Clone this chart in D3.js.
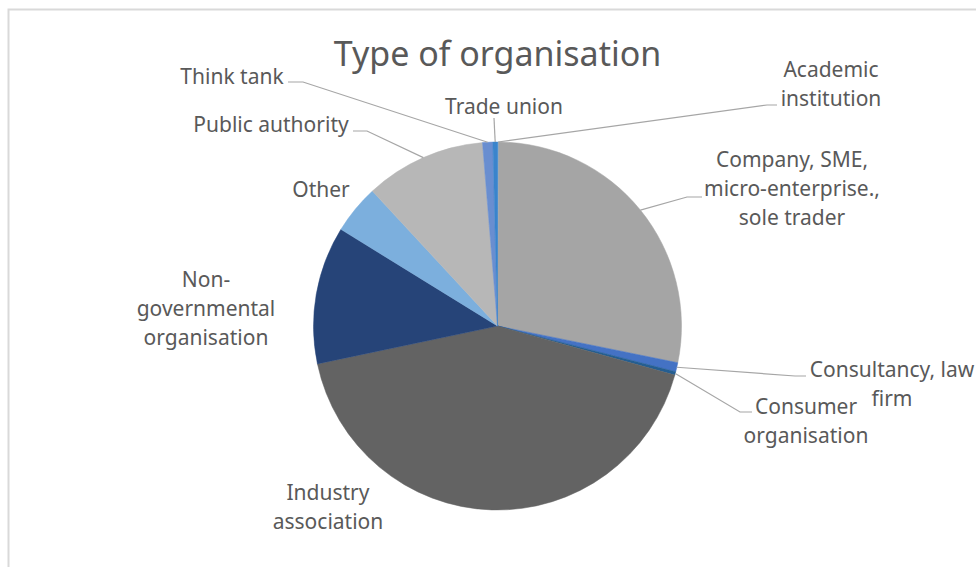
<!DOCTYPE html>
<html>
<head>
<meta charset="utf-8">
<script src="https://cdn.jsdelivr.net/npm/d3@7"></script>
<style>
  body { margin: 0; background: #fff; }
  svg { display: block; font-family: "Noto Sans", "Open Sans", sans-serif; }
  .lbl { fill: #595959; font-size: 21px; }
  .title { fill: #595959; font-size: 34px; }
  .leader { fill: none; stroke: #a6a6a6; stroke-width: 1.2; }
</style>
</head>
<body>
<svg width="976" height="567"></svg>
<script>
var svg = d3.select("svg"),
    width = 976,
    height = 567;

// the data - share of respondents by type of organisation (%)
var categories = ["Academic institution", "Company, SME, micro-enterprise., sole trader",
    "Consultancy, law firm", "Consumer organisation", "Industry association",
    "Non-governmental organisation", "Other", "Public authority", "Think tank", "Trade union"];
var values = [0.1, 28.1, 0.8, 0.3, 42.4, 12.1, 4.3, 10.6, 0.9, 0.4];
var colors = ["#5b9bd5", "#a5a5a5", "#4472c4", "#255e91", "#636363",
    "#264478", "#7cafdd", "#b7b7b7", "#698ed0", "#3a84cc"];

// label layout (text lines, centre x, first line y, leader elbow / end)
var labelLayout = {
    "Academic institution": {lines: ["Academic", "institution"], x: 831, y: 77, leader: [[767, 105], [777, 105]]},
    "Company, SME, micro-enterprise., sole trader": {lines: ["Company, SME,", "micro-enterprise.,", "sole trader"], x: 792, y: 167, leader: [[687, 197], [702, 197]]},
    "Consultancy, law firm": {lines: ["Consultancy, law", "firm"], x: 892, y: 377, leader: [[795, 376], [806, 376]]},
    "Consumer organisation": {lines: ["Consumer", "organisation"], x: 806, y: 414, leader: [[740, 412], [752, 412]]},
    "Industry association": {lines: ["Industry", "association"], x: 328, y: 500, leader: null},
    "Non-governmental organisation": {lines: ["Non-", "governmental", "organisation"], x: 206, y: 287, leader: null},
    "Other": {lines: ["Other"], x: 321, y: 197, leader: null},
    "Public authority": {lines: ["Public authority"], x: 271, y: 132, leader: [[367, 131], [353, 131]]},
    "Think tank": {lines: ["Think tank"], x: 232, y: 84, leader: [[303, 82], [288, 82]]},
    "Trade union": {lines: ["Trade union"], x: 504, y: 114, leader: [[494, 118], [494, 118]]}
};

var cx = 497.5, cy = 326, radius = 184;

// chart frame
svg.append("rect")
    .attr("x", 8.5).attr("y", 9.5)
    .attr("width", width + 20).attr("height", height + 20)
    .attr("fill", "#fff")
    .attr("stroke", "#d9d9d9")
    .attr("stroke-width", 2);

// title
svg.append("text")
    .attr("class", "title")
    .attr("x", cx)
    .attr("y", 66)
    .attr("text-anchor", "middle")
    .text("Type of organisation");

var data = categories.map(function(c, i) { return {name: c, value: values[i], color: colors[i]}; });

var pie = d3.pie().sort(null).value(function(d) { return d.value; });
var arc = d3.arc().innerRadius(0).outerRadius(radius);

var arcs = pie(data);

var g = svg.append("g").attr("transform", "translate(" + cx + "," + cy + ")");

g.selectAll("path.slice")
    .data(arcs)
    .enter().append("path")
    .attr("class", "slice")
    .attr("d", arc)
    .attr("fill", function(d) { return d.data.color; })
    .attr("stroke", function(d) { return d.data.color; })
    .attr("stroke-width", 0.5);

// point on the rim at a slice's middle angle
function rimPoint(d) {
    var a = (d.startAngle + d.endAngle) / 2;
    return [cx + radius * Math.sin(a), cy - radius * Math.cos(a)];
}

// leader lines
svg.selectAll("path.leader")
    .data(arcs.filter(function(d) { return labelLayout[d.data.name].leader; }))
    .enter().append("path")
    .attr("class", "leader")
    .attr("d", function(d) {
        var pts = [rimPoint(d)].concat(labelLayout[d.data.name].leader);
        return d3.line()(pts);
    });

// labels
var labels = svg.selectAll("text.lbl")
    .data(arcs)
    .enter().append("text")
    .attr("class", "lbl")
    .attr("text-anchor", "middle")
    .attr("x", function(d) { return labelLayout[d.data.name].x; })
    .attr("y", function(d) { return labelLayout[d.data.name].y; });

labels.each(function(d) {
    var lay = labelLayout[d.data.name];
    d3.select(this).selectAll("tspan")
        .data(lay.lines)
        .enter().append("tspan")
        .attr("x", lay.x)
        .attr("dy", function(t, i) { return i === 0 ? 0 : 29; })
        .text(function(t) { return t; });
});
</script>
</body>
</html>
